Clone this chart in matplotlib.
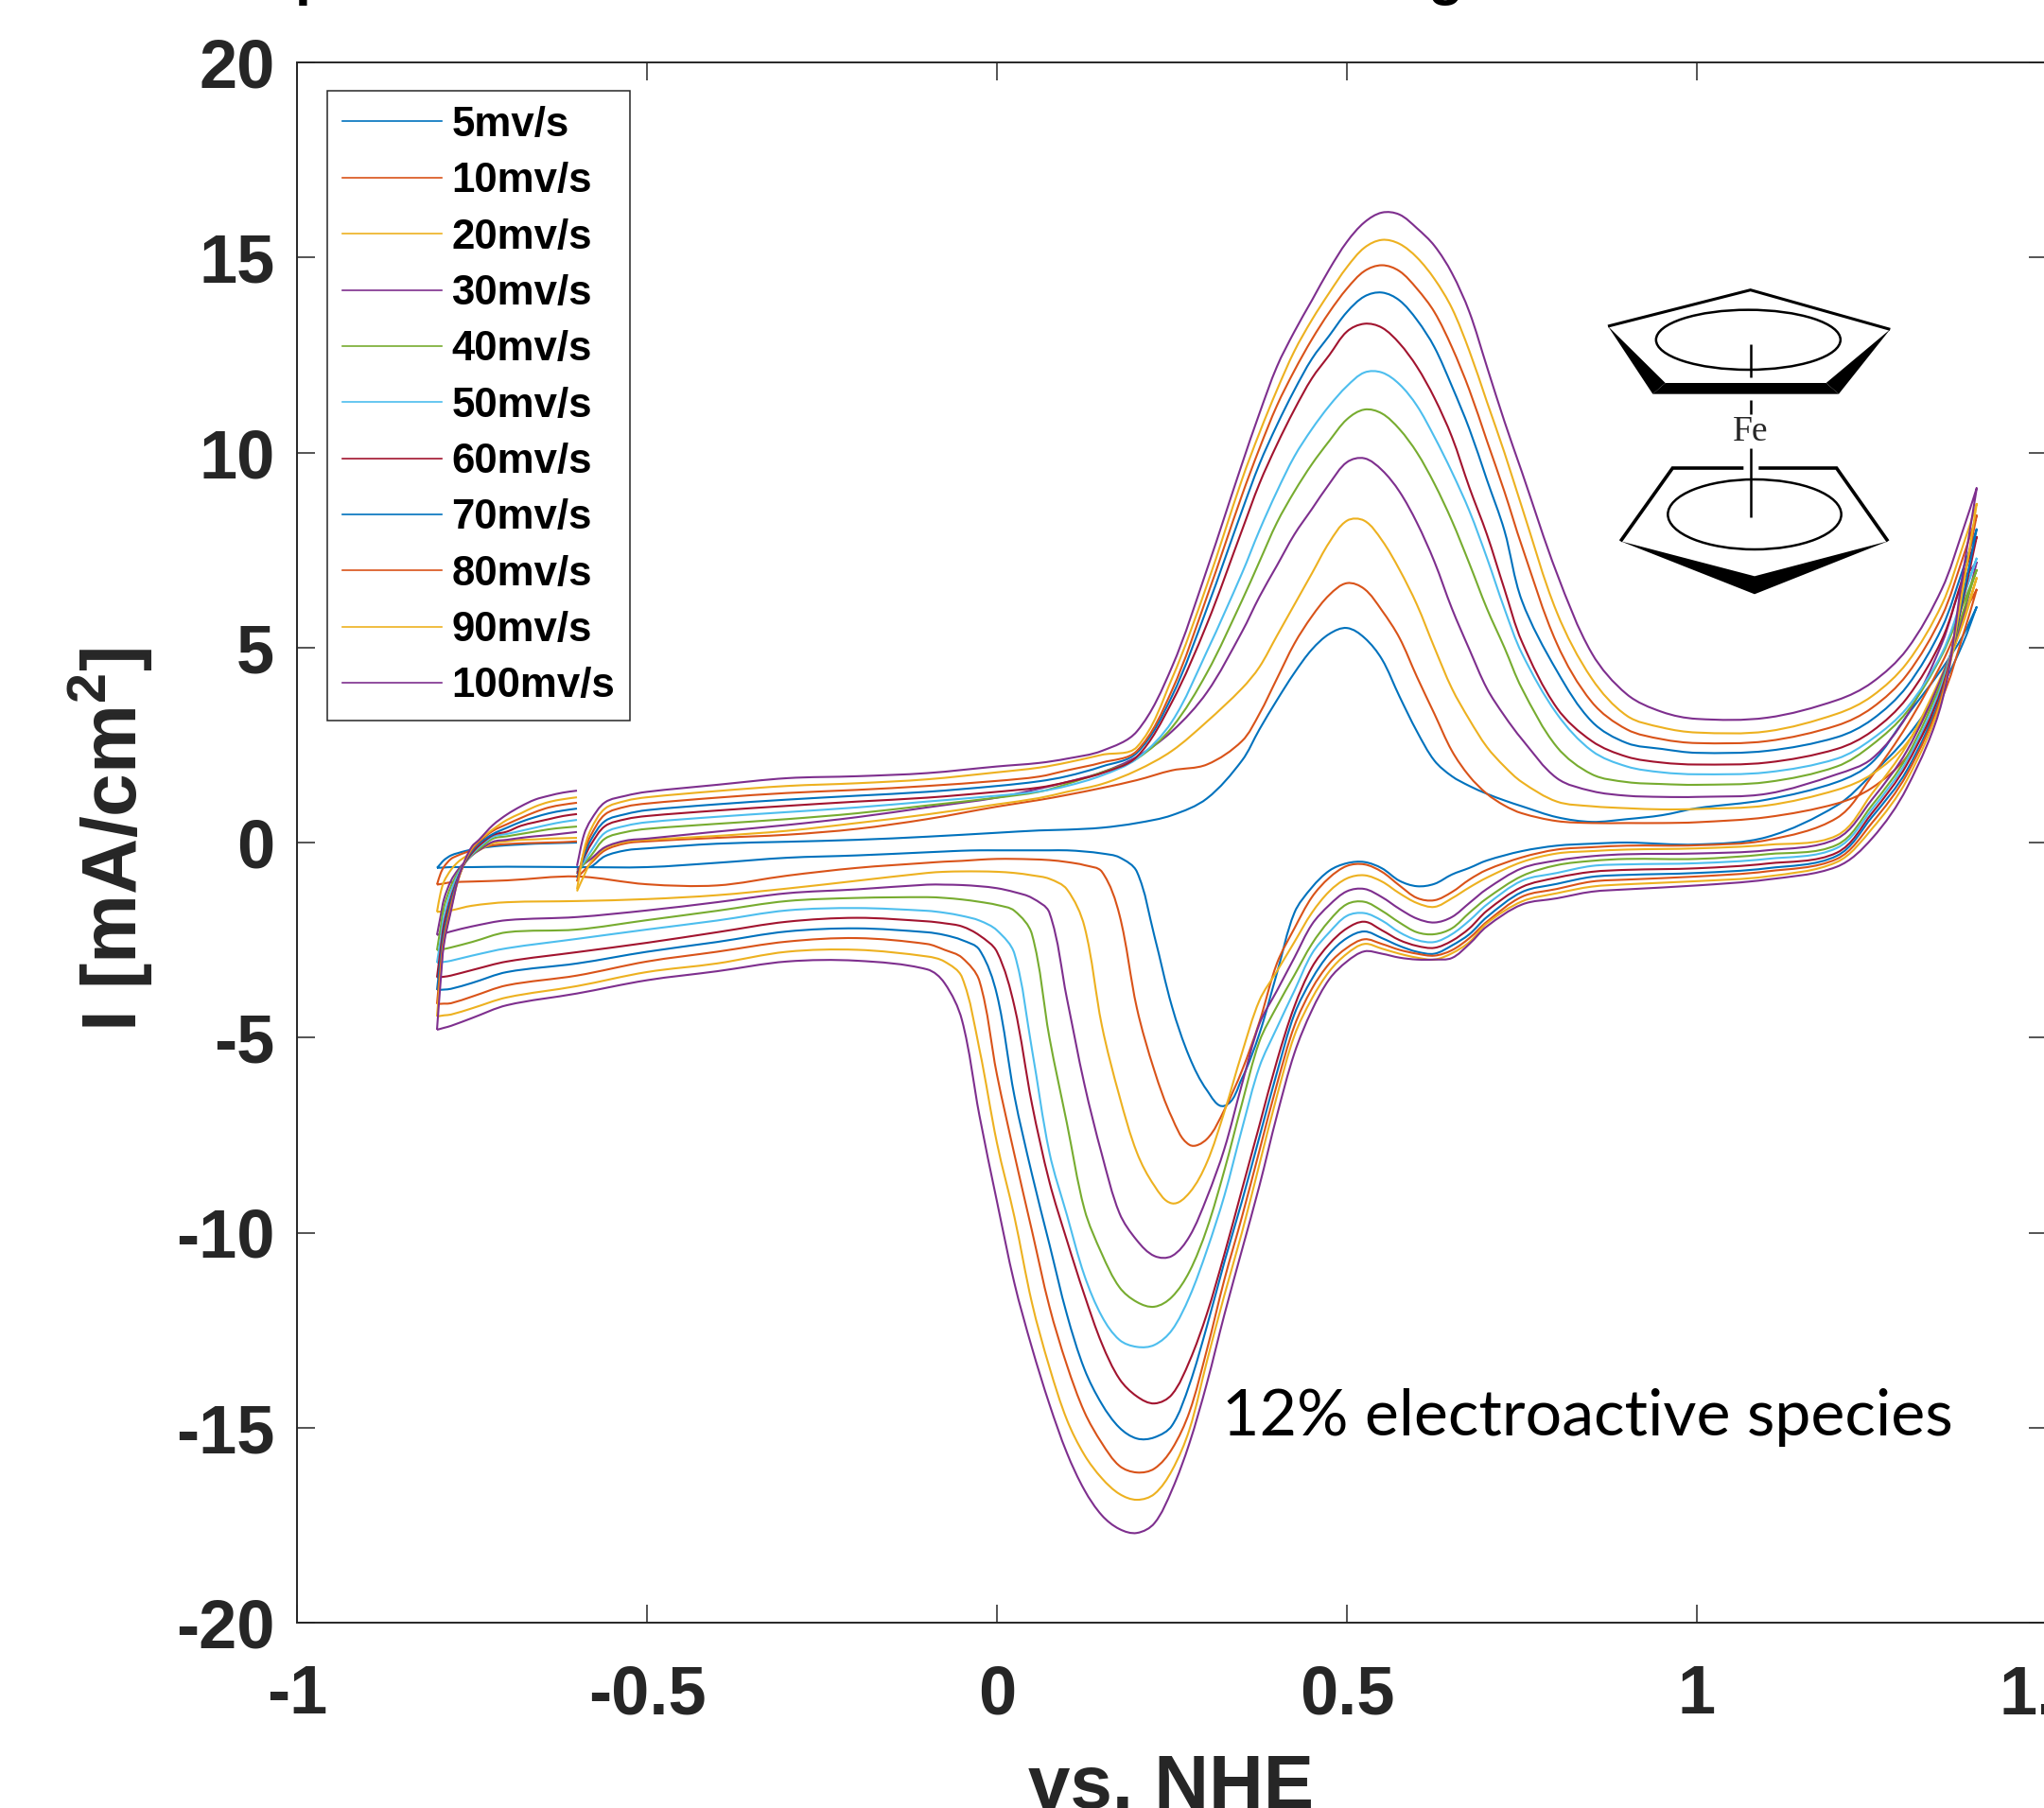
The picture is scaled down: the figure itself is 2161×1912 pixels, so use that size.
import matplotlib
matplotlib.use('Agg')
import matplotlib.pyplot as plt
import numpy as np
from matplotlib.patches import Polygon, Ellipse, PathPatch
from matplotlib.path import Path
from matplotlib.lines import Line2D
from matplotlib.transforms import Affine2D

plt.rcParams['font.family'] = ['Liberation Sans', 'DejaVu Sans']
plt.rcParams['mathtext.fontset'] = 'custom'
plt.rcParams['mathtext.bf'] = 'Liberation Sans:bold'

# potential grids (V vs NHE) for the three parts of each sweep
v_fwd = [-0.6, -0.59, -0.58, -0.56, -0.53, -0.5, -0.4, -0.3, -0.2, -0.1, 0, 0.06, 0.1, 0.15, 0.2, 0.25,
         0.3, 0.35, 0.375, 0.4, 0.425, 0.45, 0.475, 0.5, 0.525, 0.55, 0.575, 0.6, 0.625, 0.65, 0.675, 0.7,
         0.725, 0.75, 0.8, 0.85, 0.9, 0.95, 1.0, 1.1, 1.2, 1.25, 1.3, 1.35, 1.38, 1.4]
v_rev = [1.4, 1.38, 1.35, 1.3, 1.25, 1.2, 1.1, 1.0, 0.9, 0.85, 0.8, 0.75, 0.7, 0.675, 0.65, 0.625, 0.6, 0.575,
         0.55, 0.525, 0.5, 0.475, 0.45, 0.425, 0.4, 0.375, 0.35, 0.325, 0.3, 0.275, 0.25, 0.225, 0.2, 0.175,
         0.15, 0.125, 0.1, 0.075, 0.05, 0.025, 0, -0.025, -0.05, -0.075, -0.1, -0.2, -0.3, -0.4, -0.5, -0.6,
         -0.7, -0.75, -0.78, -0.79, -0.8]
v_back = [-0.8, -0.795, -0.79, -0.78, -0.77, -0.76, -0.75, -0.74, -0.72, -0.7, -0.68, -0.66, -0.64, -0.62, -0.6]

# current, mA/cm2
fwd_5 = [-.65, -.63, -.62, -.35, -.2, -.15, -.03, .02, .07, .15, .25, .31, .33, .38, .5, .7,
         1.13, 2.1, 2.9, 3.65, 4.35, 4.95, 5.35, 5.5, 5.25, 4.7, 3.75, 2.85, 2.1, 1.7, 1.45, 1.25,
         1.08, .93, .65, .53, .6, .7, .88, 1.1, 1.55, 2.05, 3.25, 4.45, 5.3, 6.05]
rev_5 = [6.05, 5.1, 4.0, 2.7, 1.75, .95, .14, -.05, 0, -.03, -.08, -.22, -.46, -.65, -.82, -1.06, -1.12, -.98,
         -.66, -.5, -.53, -.72, -1.15, -1.8, -3.35, -4.9, -6.05, -6.75, -6.35, -5.5, -4.2, -2.4, -.75, -.38,
         -.28, -.23, -.2, -.2, -.2, -.2, -.2, -.2, -.21, -.23, -.25, -.33, -.39, -.52, -.63, -.63,
         -.62, -.63, -.63, -.64, -.65]
back_5 = [-.65, -.55, -.45, -.33, -.27, -.22, -.18, -.15, -.1, -.07, -.05, -.03, -.02, -.01, 0]

fwd_10 = [-.9, -.72, -.53, -.2, -.02, .03, .12, .2, .35, .6, .92, 1.09, 1.22, 1.4, 1.6, 1.85,
          2.0, 2.6, 3.3, 4.2, 5.1, 5.8, 6.35, 6.65, 6.5, 5.95, 5.25, 4.25, 3.3, 2.35, 1.7, 1.25,
          .95, .75, .55, .5, .5, .5, .52, .65, 1.0, 1.4, 2.2, 3.7, 5.3, 6.5]
rev_10 = [6.5, 5.8, 4.6, 3.0, 1.7, .63, .06, -.07, -.08, -.12, -.18, -.38, -.7, -.95, -1.27, -1.48, -1.42, -1.1,
          -.75, -.56, -.6, -.9, -1.4, -2.2, -3.1, -4.6, -5.85, -6.85, -7.6, -7.75, -7.05, -5.85, -4.25, -1.85,
          -.75, -.58, -.5, -.45, -.43, -.42, -.42, -.44, -.47, -.49, -.52, -.65, -.85, -1.1, -1.07, -.87,
          -.97, -1.0, -1.02, -1.05, -1.08]
back_10 = [-1.08, -.8, -.62, -.42, -.33, -.26, -.2, -.15, -.07, -.04, -.02, -.01, 0, .01, .03]

fwd_20 = [-1.25, -.85, -.5, -.15, .02, .07, .17, .3, .5, .72, .98, 1.14, 1.3, 1.5, 1.85, 2.35,
          3.1, 3.95, 4.5, 5.3, 6.1, 6.9, 7.7, 8.25, 8.25, 7.75, 7.0, 6.1, 5.0, 3.95, 3.15, 2.45,
          1.95, 1.55, 1.05, .93, .88, .85, .86, .95, 1.35, 1.75, 2.55, 4.1, 5.7, 6.8]
rev_20 = [6.8, 5.6, 4.3, 2.5, 1.25, .18, -.06, -.15, -.18, -.22, -.28, -.5, -.9, -1.15, -1.43, -1.65, -1.55, -1.3,
          -1.0, -.84, -.92, -1.25, -1.8, -2.55, -3.3, -4.05, -5.4, -6.9, -8.2, -8.98, -9.25, -8.8, -7.95, -6.5,
          -4.7, -2.15, -1.2, -.93, -.84, -.78, -.75, -.74, -.74, -.75, -.78, -.98, -1.18, -1.35, -1.45, -1.5,
          -1.53, -1.62, -1.74, -1.76, -1.78]
back_20 = [-1.78, -1.3, -1.0, -.7, -.5, -.37, -.28, -.2, -.02, .03, .07, .08, .1, .11, .12]

fwd_30 = [-.7, -.55, -.42, -.12, .05, .1, .28, .45, .65, .9, 1.15, 1.38, 1.55, 1.8, 2.2, 2.85,
          3.85, 5.4, 6.3, 7.1, 7.9, 8.55, 9.2, 9.75, 9.85, 9.55, 9.0, 8.2, 7.2, 6.0, 4.95, 3.95,
          3.25, 2.65, 1.65, 1.32, 1.2, 1.17, 1.17, 1.25, 1.75, 2.15, 3.25, 5.1, 6.7, 7.2]
rev_30 = [7.2, 5.8, 4.25, 2.35, 1.1, .1, -.2, -.28, -.3, -.35, -.46, -.66, -1.19, -1.55, -1.91, -2.05, -1.95, -1.7,
          -1.4, -1.19, -1.25, -1.6, -2.1, -2.95, -3.8, -4.65, -6.2, -7.85, -9.1, -10.1, -10.6, -10.6, -10.2, -9.5,
          -8.0, -6.2, -4.0, -1.8, -1.42, -1.27, -1.17, -1.12, -1.09, -1.08, -1.08, -1.2, -1.3, -1.53, -1.74, -1.91,
          -1.99, -2.15, -2.28, -2.33, -2.37]
back_30 = [-2.37, -1.9, -1.45, -.98, -.7, -.5, -.33, -.2, .02, .07, .12, .16, .19, .23, .27]

fwd_40 = [-.75, -.55, -.34, .1, .27, .35, .48, .6, .75, .95, 1.15, 1.3, 1.5, 1.8, 2.15, 2.95,
          4.35, 6.2, 7.2, 8.2, 9.0, 9.7, 10.3, 10.85, 11.1, 11.0, 10.6, 10.0, 9.2, 8.25, 7.15, 6.0,
          5.0, 3.95, 2.45, 1.75, 1.55, 1.5, 1.48, 1.55, 1.95, 2.5, 3.35, 4.8, 6.1, 7.0]
rev_40 = [7.0, 5.9, 4.15, 2.2, .95, -.06, -.3, -.42, -.42, -.47, -.58, -.86, -1.43, -1.8, -2.2, -2.35, -2.3, -2.05,
          -1.75, -1.52, -1.58, -2.0, -2.6, -3.4, -4.2, -5.1, -6.7, -8.4, -9.9, -11.0, -11.65, -11.9, -11.78, -11.4,
          -10.55, -9.4, -7.2, -5.0, -2.35, -1.75, -1.6, -1.52, -1.46, -1.42, -1.4, -1.42, -1.5, -1.75, -1.99, -2.23,
          -2.3, -2.55, -2.69, -2.73, -2.76]
back_40 = [-2.76, -2.2, -1.65, -1.12, -.77, -.52, -.32, -.17, .1, .16, .22, .28, .34, .38, .41]

fwd_50 = [-.75, -.5, -.22, .25, .43, .52, .66, .78, .9, 1.05, 1.2, 1.31, 1.45, 1.72, 2.15, 3.1,
          4.9, 6.9, 8.0, 9.0, 9.9, 10.6, 11.2, 11.7, 12.05, 12.05, 11.75, 11.2, 10.4, 9.5, 8.5, 7.3,
          6.0, 4.85, 3.3, 2.35, 1.95, 1.8, 1.75, 1.8, 2.15, 2.65, 3.45, 4.85, 6.3, 7.3]
rev_50 = [7.3, 6.2, 4.05, 2.1, .85, -.14, -.42, -.53, -.56, -.6, -.78, -.98, -1.59, -2.0, -2.35, -2.55, -2.5, -2.3,
          -2.0, -1.81, -1.88, -2.3, -2.85, -3.8, -4.75, -5.75, -7.35, -9.05, -10.45, -11.65, -12.5, -12.88, -12.93, -12.75,
          -12.15, -11.1, -9.55, -7.95, -5.3, -2.85, -2.25, -2.0, -1.88, -1.8, -1.75, -1.68, -1.74, -2.0, -2.23, -2.47,
          -2.71, -2.9, -3.03, -3.06, -3.08]
back_50 = [-3.08, -2.5, -1.9, -1.25, -.82, -.52, -.3, -.12, .15, .22, .3, .38, .46, .53, .58]

fwd_60 = [-.8, -.4, -.05, .42, .6, .68, .82, .94, 1.05, 1.15, 1.3, 1.41, 1.55, 1.78, 2.2, 3.6,
          5.6, 8.0, 9.2, 10.2, 11.1, 11.9, 12.5, 13.1, 13.3, 13.2, 12.8, 12.2, 11.4, 10.4, 9.1, 7.9,
          6.5, 5.15, 3.45, 2.6, 2.2, 2.05, 2.0, 2.05, 2.4, 2.85, 3.7, 5.2, 6.8, 7.85]
rev_60 = [7.85, 6.2, 3.95, 2.0, .75, -.26, -.54, -.66, -.7, -.75, -.9, -1.14, -1.75, -2.2, -2.52, -2.7, -2.65, -2.5,
          -2.25, -2.03, -2.2, -2.6, -3.2, -4.2, -5.6, -7.25, -8.9, -10.55, -12.08, -13.3, -14.15, -14.38, -14.2, -13.75,
          -12.85, -11.6, -10.2, -8.7, -6.7, -4.2, -2.8, -2.38, -2.15, -2.07, -2.02, -1.93, -2.03, -2.3, -2.57, -2.81,
          -3.05, -3.27, -3.41, -3.44, -3.46]
back_60 = [-3.46, -2.75, -2.1, -1.4, -.9, -.52, -.27, -.08, .19, .28, .43, .52, .6, .68, .73]

fwd_70 = [-.9, -.35, .07, .55, .73, .83, .98, 1.1, 1.2, 1.3, 1.45, 1.57, 1.7, 1.95, 2.3, 3.75,
          6.0, 8.5, 9.7, 10.7, 11.6, 12.4, 13.0, 13.6, 14.0, 14.1, 13.9, 13.4, 12.7, 11.7, 10.6, 9.3,
          8.0, 6.2, 4.4, 3.1, 2.55, 2.4, 2.3, 2.35, 2.7, 3.15, 4.0, 5.5, 7.0, 8.05]
rev_70 = [8.05, 6.3, 3.85, 1.85, .65, -.34, -.66, -.78, -.83, -.88, -1.06, -1.27, -1.91, -2.35, -2.64, -2.85, -2.8, -2.65,
          -2.45, -2.28, -2.45, -2.85, -3.5, -4.4, -5.9, -7.55, -9.2, -10.75, -12.4, -13.9, -14.95, -15.25, -15.28, -15.0,
          -14.4, -13.5, -12.1, -10.3, -8.5, -6.5, -3.9, -2.75, -2.5, -2.37, -2.3, -2.2, -2.28, -2.55, -2.8, -3.1,
          -3.32, -3.6, -3.75, -3.77, -3.78]
back_70 = [-3.78, -3.0, -2.3, -1.5, -.93, -.5, -.22, -.02, .22, .38, .53, .65, .75, .82, .87]

fwd_80 = [-1.0, -.25, .19, .72, .92, 1.0, 1.15, 1.27, 1.35, 1.45, 1.58, 1.69, 1.85, 2.05, 2.35, 3.9,
          6.3, 8.9, 10.1, 11.2, 12.1, 12.9, 13.6, 14.2, 14.65, 14.8, 14.65, 14.2, 13.6, 12.7, 11.6, 10.3,
          9.0, 7.6, 5.1, 3.6, 2.9, 2.65, 2.55, 2.6, 3.0, 3.45, 4.3, 5.8, 7.3, 8.4]
rev_80 = [8.4, 6.6, 3.8, 1.75, .5, -.42, -.74, -.87, -.95, -1.0, -1.19, -1.39, -2.03, -2.45, -2.76, -2.9, -2.85, -2.75,
          -2.6, -2.48, -2.7, -3.1, -3.75, -4.7, -6.2, -7.9, -9.6, -11.2, -13.0, -14.6, -15.55, -16.05, -16.15, -15.98,
          -15.4, -14.6, -13.4, -11.9, -9.95, -8.0, -5.95, -3.55, -2.95, -2.75, -2.6, -2.45, -2.54, -2.8, -3.05, -3.41,
          -3.66, -3.95, -4.12, -4.13, -4.14]
back_80 = [-4.14, -3.2, -2.45, -1.6, -.97, -.48, -.18, .02, .3, .47, .63, .78, .9, .97, 1.02]

fwd_90 = [-1.2, -.2, .34, .87, 1.07, 1.16, 1.32, 1.45, 1.52, 1.62, 1.8, 1.92, 2.05, 2.25, 2.45, 4.2,
          6.6, 9.3, 10.5, 11.6, 12.6, 13.4, 14.1, 14.75, 15.25, 15.45, 15.35, 15.0, 14.45, 13.7, 12.6, 11.3,
          10.0, 8.6, 5.9, 4.2, 3.25, 2.95, 2.82, 2.85, 3.3, 3.75, 4.6, 6.1, 7.6, 8.7]
rev_90 = [8.7, 6.5, 3.7, 1.6, .35, -.5, -.87, -.99, -1.07, -1.13, -1.3, -1.51, -2.07, -2.55, -2.84, -3.0, -2.95, -2.85,
          -2.72, -2.6, -2.85, -3.3, -4.0, -4.95, -6.5, -8.25, -10.0, -11.6, -13.3, -15.05, -16.1, -16.7, -16.85, -16.7,
          -16.3, -15.7, -14.8, -13.45, -11.8, -9.6, -7.7, -5.3, -3.45, -3.05, -2.92, -2.75, -2.8, -3.1, -3.32, -3.68,
          -3.97, -4.25, -4.41, -4.43, -4.46]
back_90 = [-4.46, -3.4, -2.55, -1.7, -.98, -.47, -.14, .05, .34, .58, .75, .92, 1.04, 1.11, 1.16]

fwd_100 = [-.6, .2, .58, 1.03, 1.2, 1.3, 1.48, 1.65, 1.7, 1.78, 1.95, 2.04, 2.15, 2.35, 2.85, 4.5,
           7.0, 9.7, 11.0, 12.2, 13.1, 13.9, 14.7, 15.4, 15.9, 16.15, 16.1, 15.75, 15.3, 14.6, 13.6, 12.2,
           10.8, 9.5, 6.9, 4.85, 3.8, 3.35, 3.17, 3.2, 3.65, 4.1, 4.95, 6.5, 8.0, 9.1]
rev_100 = [9.1, 6.9, 3.6, 1.4, .1, -.62, -.95, -1.1, -1.2, -1.26, -1.43, -1.59, -2.15, -2.6, -2.96, -3.0, -3.0, -2.95,
           -2.85, -2.79, -3.05, -3.5, -4.3, -5.4, -7.0, -8.8, -10.45, -12.1, -13.86, -15.4, -16.6, -17.45, -17.7, -17.6,
           -17.25, -16.6, -15.65, -14.4, -12.95, -11.3, -9.2, -7.0, -4.55, -3.6, -3.25, -3.03, -3.05, -3.3, -3.53, -3.87,
           -4.17, -4.5, -4.7, -4.75, -4.8]
back_100 = [-4.8, -3.6, -2.6, -1.75, -.95, -.45, -.1, .07, .45, .72, .93, 1.1, 1.2, 1.28, 1.33]

labels = ['5mv/s', '10mv/s', '20mv/s', '30mv/s', '40mv/s', '50mv/s', '60mv/s', '70mv/s', '80mv/s', '90mv/s', '100mv/s']
xticks = [-1, -0.5, 0, 0.5, 1, 1.5]
xticklabels = ['-1', '-0.5', '0', '0.5', '1', '1.5']
yticks = [-20, -15, -10, -5, 0, 5, 10, 15, 20]
yticklabels = ['-20', '-15', '-10', '-5', '0', '5', '10', '15', '20']

fwd = [fwd_5, fwd_10, fwd_20, fwd_30, fwd_40, fwd_50, fwd_60, fwd_70, fwd_80, fwd_90, fwd_100]
rev = [rev_5, rev_10, rev_20, rev_30, rev_40, rev_50, rev_60, rev_70, rev_80, rev_90, rev_100]
back = [back_5, back_10, back_20, back_30, back_40, back_50, back_60, back_70, back_80, back_90, back_100]

W, H = 2161, 1912
ink = '#262626'
# matlab line colours, they cycle
colors = ['#0072BD', '#D95319', '#EDB120', '#7E2F8E', '#77AC30', '#4DBEEE', '#A2142F']


def curve_part(xs, ys):
    """ Bezier segments through the read values, so the trace is not drawn with corners """
    p = np.column_stack([xs, ys])
    # tangents worked out in plot proportions (740 px per V, 41.3 px per mA)
    scale = np.array([740.0, 41.3])
    q = p * scale
    t = np.zeros_like(q)
    t[1:-1] = q[2:] - q[:-2]
    t[0] = q[1] - q[0]
    t[-1] = q[-1] - q[-2]
    t = t / np.linalg.norm(t, axis=1, keepdims=True)
    verts = [p[0]]
    codes = [Path.MOVETO]
    for i in range(len(p) - 1):
        d = np.linalg.norm(q[i + 1] - q[i]) / 3
        verts += [(q[i] + t[i] * d) / scale, (q[i + 1] - t[i + 1] * d) / scale, p[i + 1]]
        codes += [Path.CURVE4] * 3
    return verts, codes


fig = plt.figure(figsize=(W / 100, H / 100), dpi=100)
# axes run a little past the right edge of the picture, as in the original crop
ax = fig.add_axes([314 / W, (H - 1716) / H, 1850 / W, 1650 / H])

handles = []
for i in range(len(labels)):
    c = colors[i % len(colors)]
    verts, codes = [], []
    for xs, ys in [(v_fwd, fwd[i]), (v_rev, rev[i]), (v_back, back[i])]:
        v, k = curve_part(xs, ys)
        verts += v
        codes += k
    ax.add_patch(PathPatch(Path(verts, codes), fill=False, ec=c, lw=1.5))
    handles.append(Line2D([], [], color=c, lw=1.2, label=labels[i]))

ax.set_xlim(-1, 1.5)
ax.set_ylim(-20, 20)
ax.set_xticks(xticks)
ax.set_xticklabels(xticklabels, fontsize=52, fontweight='bold', color=ink)
ax.set_yticks(yticks)
ax.set_yticklabels(yticklabels, fontsize=52, fontweight='bold', color=ink)
ax.tick_params(direction='in', length=13.5, width=1.1, color=ink, top=True, right=True, pad=17)
ax.tick_params(axis='x', pad=31)
for s in ax.spines.values():
    s.set_linewidth(1.4)
    s.set_color(ink)

leg = ax.legend(handles=handles, loc='upper left', bbox_to_anchor=((346 - 314) / 1850, 1 - (96 - 66) / 1650),
                borderaxespad=0, prop={'family': 'Liberation Sans', 'weight': 'bold', 'size': 31.5}, labelspacing=0.42,
                handlelength=2.4, handletextpad=0.24, borderpad=0.36, fancybox=False, framealpha=1,
                edgecolor=ink)
leg.get_frame().set_linewidth(1.1)
for t in leg.get_texts():
    t.set_color('black')

ax.text(0.322, -15.2, '12% electroactive species', family='Lato', fontsize=49, color='black', va='baseline')

# axis titles, the x one is cut by the bottom edge
fig.text(1238 / W, 1 - 1912 / H, 'vs. NHE', fontsize=57.5, fontweight='bold', color=ink,
         ha='center', va='baseline')
fig.text(117 / W, 1 - 888 / H, r'I [mA/cm$^{\mathbf{2}}$]', fontsize=59, fontweight='bold', color=ink,
         rotation=90, ha='center', va='center')
# what is left of the title above the top edge
fig.text(331 / W, 1 + 7 / H, 'p', fontsize=44, fontweight='bold', color='black', ha='center', va='baseline')
fig.text(1528 / W, 1 + 7 / H, 'g', fontsize=44, fontweight='bold', color='black', ha='center', va='baseline')

# ferrocene sketch, coordinates in a 3x pixel frame from (1640, 270)
mol = Affine2D().scale(1 / 3).translate(1640, 270).scale(1 / W, -1 / H).translate(0, 1) + fig.transFigure
def mol_line(xs, ys, lw=2.2):
    fig.add_artist(Line2D(xs, ys, color='black', lw=lw, transform=mol, solid_joinstyle='miter', solid_capstyle='butt'))
def mol_fill(pts):
    fig.add_artist(Polygon(pts, closed=True, fc='black', ec='none', transform=mol))

mol_line([180, 632, 1075], [225, 110, 235])
mol_fill([(180, 225), (362, 405), (322, 440)])
mol_fill([(362, 405), (872, 405), (912, 440), (322, 440)])
mol_fill([(1075, 235), (872, 405), (912, 440)])
fig.add_artist(Ellipse((625, 268), 585, 190, fill=False, ec='black', lw=1.8, transform=mol))
mol_line([632, 632], [282, 388], 1.8)
mol_line([632, 632], [460, 505], 1.8)
fig.text((1640 + 632 / 3) / W, 1 - (270 + 560 / 3) / H, 'Fe', family='Liberation Serif', fontsize=27, color=ink,
         ha='center', va='center')
mol_line([632, 632], [612, 830], 1.8)
mol_line([610, 385, 220], [675, 675, 907], 2.6)
mol_line([658, 905, 1068], [675, 675, 907], 2.6)
mol_fill([(220, 907), (645, 1018), (1068, 907), (645, 1075)])
fig.add_artist(Ellipse((645, 822), 550, 222, fill=False, ec='black', lw=1.8, transform=mol))

fig.savefig('out.png', dpi=100)
